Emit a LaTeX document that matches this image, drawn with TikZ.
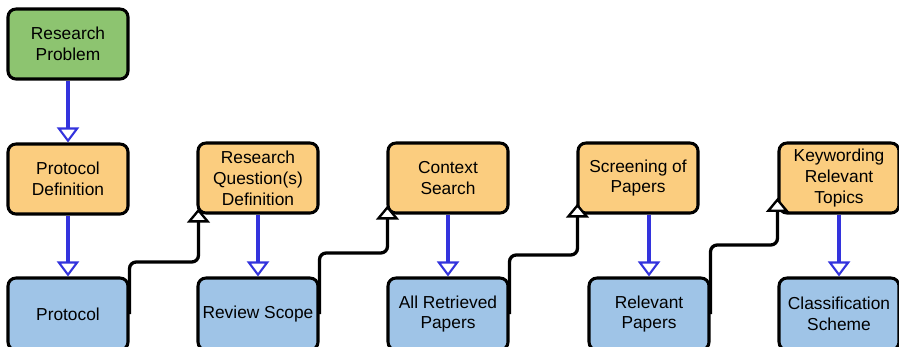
\documentclass[tikz,border=0pt]{standalone}
\usepackage{fontspec}
\setmainfont{Liberation Sans}
\usepackage{tikz}
\usepackage{xcolor}
\usetikzlibrary{calc,arrows.meta}
\definecolor{probgreen}{RGB}{141,196,112}
\definecolor{steporange}{RGB}{251,205,127}
\definecolor{outblue}{RGB}{159,196,231}
\definecolor{flowblue}{RGB}{51,51,221}

\begin{document}
\begin{tikzpicture}
        \tikzstyle{every node}=[draw,line width=2.6pt,rounded corners=0.24cm,minimum width=3.6cm,minimum height=2.1cm,align=center,inner sep=0pt,font=\fontsize{14.8}{17.9}\selectfont]
        \tikzstyle{problem}=[fill=probgreen]
        \tikzstyle{activity}=[fill=steporange]
        \tikzstyle{result}=[fill=outblue,minimum height=2.16cm]
        \tikzstyle{flow}=[flowblue,line width=2.8pt,-{Triangle[fill=white,length=0.45cm,width=0.66cm,line width=1.8pt]}]
        \tikzstyle{feed}=[black,line width=2.8pt,rounded corners=0.2cm,-{Triangle[fill=white,length=0.42cm,width=0.68cm,line width=2pt]}]

            \useasboundingbox (0,0) rectangle (26.97,-10.38);

            \node[problem] (RP) at (2.04,-1.32) {Research\\Problem};
            \node[activity] (PD) at ($(RP)+(0,-4.05)$) {Protocol\\Definition};
            \node[result] (P) at ($(PD)+(0,-4.05)$) {Protocol};

            \node[activity] (RQD) at ($(PD)+(5.7,0.03)$) {Research\\Question(s)\\Definition};
            \node[result] (RS) at ($(P)+(5.7,0)$) {Review Scope};

            \node[activity] (CS) at ($(RQD)+(5.7,0)$) {Context\\Search};
            \node[result] (ARP) at ($(RS)+(5.7,0)$) {All Retrieved\\Papers};

            \node[activity] (SP) at ($(CS)+(5.7,0)$) {Screening of\\Papers};
            \node[result] (RelP) at ($(ARP)+(6.03,0)$) {Relevant\\Papers};

            \node[activity] (KRT) at ($(SP)+(6.03,0)$) {Keywording\\Relevant\\Topics};
            \node[result] (CSch) at ($(RelP)+(5.7,0)$) {Classification\\Scheme};

            \draw[flow] (RP) -- (PD);
            \draw[flow] (PD) -- (P);
            \draw[flow] (RQD) -- (RS);
            \draw[flow] (CS) -- (ARP);
            \draw[flow] (SP.south -| RelP.north) -- (RelP.north);
            \draw[flow] (KRT) -- (CSch);

            \draw[feed] (P.east) -- ++(0,1.56) -| ($(RQD.south west)+(0.06,0.18)$);
            \draw[feed] (RS.east) -- ++(0,1.83) -| ($(CS.south west)+(0.03,0.27)$);
            \draw[feed] (ARP.east) -- ++(0,1.77) -| ($(SP.south west)+(0.03,0.33)$);
            \draw[feed] (RelP.east) -- ++(0,2.07) -| ($(KRT.south west)+(0,0.5)$);

        \end{tikzpicture}
\end{document}
